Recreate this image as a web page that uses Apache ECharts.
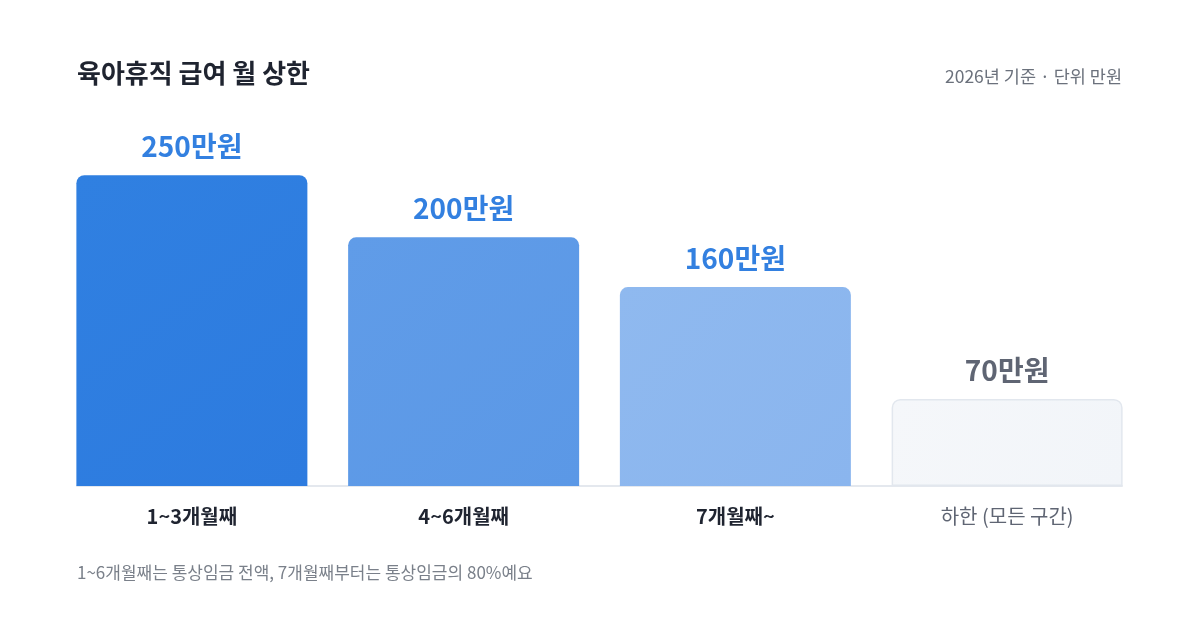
<!DOCTYPE html>
<html>
<head>
<meta charset="utf-8">
<script src="https://cdn.jsdelivr.net/npm/echarts@6/dist/echarts.min.js"></script>
<style>
  html, body { margin: 0; padding: 0; background: #fff; }
  #chart { width: 1200px; height: 632px; }
</style>
</head>
<body>
<div id="chart"></div>
<script>
// 육아휴직 급여 월 상한 (단위: 만원)
const categories = ['1~3개월째', '4~6개월째', '7개월째~', '하한 (모든 구간)'];
const values = [250, 200, 160, 70];
const valueLabels = ['250만원', '200만원', '160만원', '70만원'];

const FONT = '"Noto Sans CJK KR", "Noto Sans", sans-serif';

const barColors = [
    { top: '#3080e1', bottom: '#2d7bdf', border: null },
    { top: '#609ce8', bottom: '#5b98e6', border: null },
    { top: '#8fb9ef', bottom: '#8ab5ee', border: null },
    { top: '#f5f7fa', bottom: '#f2f5f9', border: '#e2e7ee' }
];
const labelColors = ['#3380e0', '#3380e0', '#3380e0', '#5f6573'];

const chart = echarts.init(document.getElementById('chart'));
chart.setOption({
    backgroundColor: '#ffffff',
    animation: false,
    title: [
        {
            text: '육아휴직 급여 월 상한',
            left: 72, top: 55,
            textStyle: { fontFamily: FONT, fontSize: 26, fontWeight: 'bold', color: '#1f2430' }
        },
        {
            text: '2026년 기준 · 단위 만원',
            right: 73, top: 63,
            textStyle: { fontFamily: FONT, fontSize: 17.5, fontWeight: 'normal', color: '#6b717c' }
        },
        {
            text: '1~6개월째는 통상임금 전액, 7개월째부터는 통상임금의 80%예요',
            left: 72, top: 559,
            textStyle: { fontFamily: FONT, fontSize: 17, fontWeight: 'normal', color: '#7a808a' }
        }
    ],
    grid: [
        { left: 56, right: 57, top: 113, bottom: 146 },
        { left: 77, right: 78, top: 113, bottom: 146 }
    ],
    xAxis: [
        {
            type: 'category',
            gridIndex: 0,
            data: categories,
            axisTick: { show: false },
            axisLine: { show: false },
            axisLabel: {
                margin: 20,
                formatter: (v, i) => i === 3 ? '{muted|' + v + '}' : '{main|' + v + '}',
                rich: {
                    main: { fontFamily: FONT, fontSize: 20, fontWeight: 'bold', color: '#1f2430' },
                    muted: { fontFamily: FONT, fontSize: 20, fontWeight: 'normal', color: '#5f6573' }
                }
            }
        },
        {
            // baseline spanning the bars only
            type: 'category',
            gridIndex: 1,
            data: categories,
            axisTick: { show: false },
            axisLabel: { show: false },
            axisLine: { lineStyle: { color: '#e4e8ee', width: 2 } }
        }
    ],
    yAxis: [
        { type: 'value', gridIndex: 0, min: 0, max: 300, show: false },
        { type: 'value', gridIndex: 1, min: 0, max: 300, show: false }
    ],
    series: [{
        type: 'bar',
        xAxisIndex: 0,
        yAxisIndex: 0,
        barWidth: 231,
        z: 3,
        data: values.map((v, i) => ({
            value: v,
            itemStyle: {
                color: new echarts.graphic.LinearGradient(0, 0, 1, 1, [
                    { offset: 0, color: barColors[i].top },
                    { offset: 1, color: barColors[i].bottom }
                ]),
                borderColor: barColors[i].border || 'transparent',
                borderWidth: barColors[i].border ? 1.5 : 0,
                borderRadius: [8, 8, 0, 0]
            },
            label: { color: labelColors[i] }
        })),
        label: {
            show: true,
            position: 'top',
            distance: 15,
            fontFamily: FONT,
            fontSize: 28,
            fontWeight: 'bold',
            formatter: p => valueLabels[p.dataIndex]
        }
    }]
});
</script>
</body>
</html>
